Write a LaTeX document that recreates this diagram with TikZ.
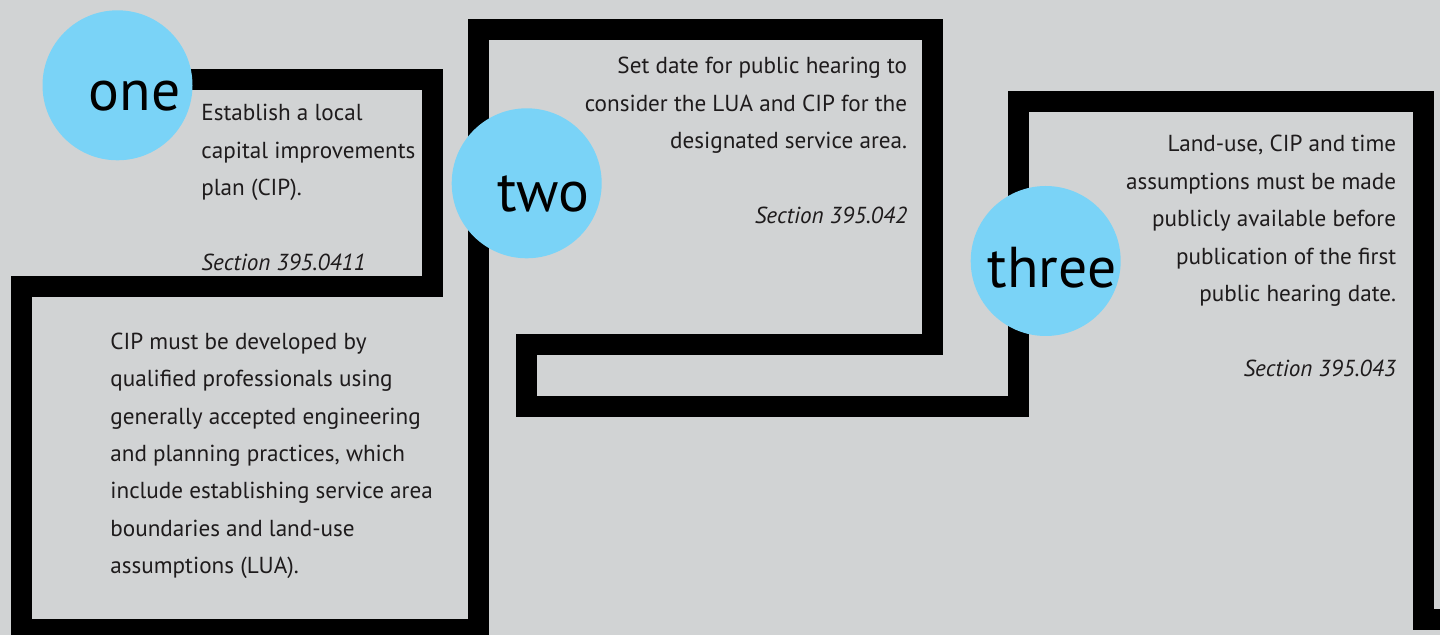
\documentclass[tikz,border=0pt]{standalone}
\usepackage{fontspec}
\setmainfont{PT Sans}
\definecolor{bg}{RGB}{209,211,212}
\definecolor{cblue}{RGB}{122,211,247}
\definecolor{ink}{RGB}{30,27,28}
\tikzset{
  frameline/.style={line width=10.5pt, line join=miter, black},
  bubble/.style={circle, fill=cblue, minimum size=75pt, inner sep=0pt, draw=none},
  numlabel/.style={anchor=base west, inner sep=0pt, text=black, font=\fontsize{28.8}{30}\selectfont},
  bodyL/.style={anchor=base west, inner sep=0pt, text=ink},
  bodyR/.style={anchor=base east, inner sep=0pt, text=ink}
}
\newcommand{\bodyfont}{\fontsize{11.58}{18.7}\selectfont}
\begin{document}
\begin{tikzpicture}[x=0.5pt,y=-0.5pt]
\fill[bg] (0,0) rectangle (1440,635);
\useasboundingbox (0,0) rectangle (1440,635);
\clip (0,0) rectangle (1440,635);
% frame path
\coordinate (p0) at (117.5,80);
\coordinate (p1) at (432.5,80);
\coordinate (p2) at (432.5,286.5);
\coordinate (p3) at (21.2,286.5);
\coordinate (p4) at (21.2,629.8);
\coordinate (p5) at (478.3,629.8);
\coordinate (p6) at (478.3,30);
\coordinate (p7) at (932.5,30);
\coordinate (p8) at (932.5,345);
\coordinate (p9) at (526.7,345);
\coordinate (p10) at (526.7,406.6);
\coordinate (p11) at (1018.2,406.6);
\coordinate (p12) at (1018.2,101.7);
\coordinate (p13) at (1423.8,101.7);
\coordinate (p14) at (1423.8,619.8);
\coordinate (p15) at (1460,619.8);
\draw[frameline] (p0) -- (p1) -- (p2) -- (p3) -- (p4) -- (p5) -- (p6) -- (p7) -- (p8) -- (p9) -- (p10) -- (p11) -- (p12) -- (p13) -- (p14) -- (p15);
% bubbles
\node[bubble] (c1) at (117.5,85.3) {};
\node[bubble] (c2) at (526.7,183.3) {};
\node[bubble] (c3) at (1045.7,261) {};
\node[numlabel] (n1) at (88.5,110.7) {one};
\node[numlabel] (n2) at (497,211.7) {two};
\node[numlabel] (n3) at (987.5,287.3) {three};
% texts
\node[bodyL] (t1) at (201,120.7) {\parbox[t]{130pt}{\bodyfont\raggedright
Establish a local\\capital improvements\\plan (CIP).\\[18.7pt]\textit{Section 395.0411}}};
\node[bodyL] (t2) at (110,349.3) {\parbox[t]{200pt}{\bodyfont\raggedright
CIP must be developed by\\qualified professionals using\\generally accepted engineering\\and planning practices, which\\include establishing service area\\boundaries and land-use\\assumptions (LUA).}};
\node[bodyR] (t3) at (907.5,74) {\parbox[t]{200pt}{\bodyfont\raggedleft
Set date for public hearing to\\consider the LUA and CIP for the\\designated service area.\\[18.7pt]\textit{Section 395.042}}};
\node[bodyR] (t4) at (1396.5,151.9) {\parbox[t]{200pt}{\bodyfont\raggedleft
Land-use, CIP and time\\assumptions must be made\\publicly available before\\publication of the first\\public hearing date.\\[18.7pt]\textit{Section 395.043}}};
\end{tikzpicture}
\end{document}
